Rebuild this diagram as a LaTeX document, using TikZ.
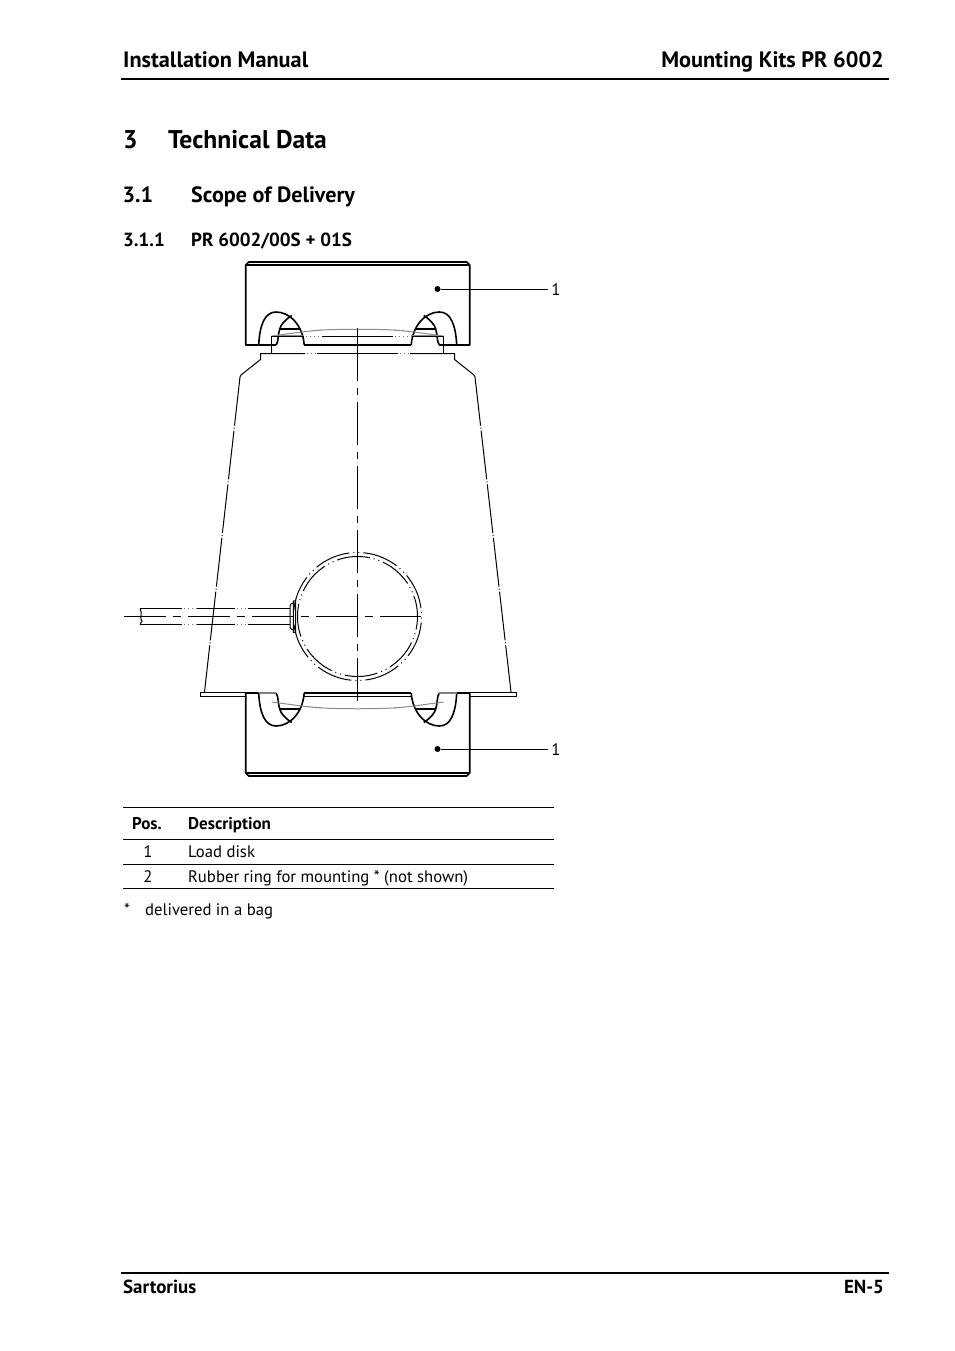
\documentclass[tikz,border=0pt]{standalone}
\usepackage{fontspec}
\setmainfont{PT Sans}
\tikzset{
  txt/.style={anchor=base west,inner sep=0pt},
  txtr/.style={anchor=base east,inner sep=0pt},
  txtc/.style={anchor=base,inner sep=0pt},
  pagefont/.style={font=\bfseries\fontsize{22.3}{25}\selectfont},
  secfont/.style={font=\bfseries\fontsize{25.6}{30}\selectfont},
  subfont/.style={font=\bfseries\fontsize{22.1}{25}\selectfont},
  subsubfont/.style={font=\bfseries\fontsize{19}{20}\selectfont},
  footfont/.style={font=\bfseries\fontsize{18.9}{20}\selectfont},
  tabhead/.style={font=\bfseries\fontsize{17}{18}\selectfont},
  tabfont/.style={font=\fontsize{16.7}{19}\selectfont},
  pagerule/.style={line width=2pt},
  tabrule/.style={line width=1pt},
  heavy/.style={line width=1.6pt,line join=round},
  light/.style={line width=1pt},
  faint/.style={line width=1pt,black!45},
  brk/.style={line width=1pt,black!55,dash pattern=on 1pt off 3pt,dash phase=2pt},
  phantomA/.style={line width=1pt,dash pattern=on 36.2pt off 4pt on 1pt off 4pt on 1pt off 4pt},
  phantomB/.style={line width=1pt,dash pattern=on 33pt off 4pt on 1pt off 4pt on 1pt off 4pt},
  sideline/.style={line width=1pt,dash pattern=on 49pt off 2pt on 1pt off 2pt},
  axisline/.style={line width=1pt,dash pattern=on 42pt off 7pt on 8pt off 7pt},
  refdot/.style={circle,fill=black,inner sep=0pt,minimum size=6pt}
}
\begin{document}
\begin{tikzpicture}[x=1pt,y=-1pt]
  \useasboundingbox (0,0) rectangle (954,1351);
  \fill[white] (0,0) rectangle (954,1351);

  % page head and foot
  \node[txt,pagefont] (manual) at (123,68) {Installation Manual};
  \node[txtr,pagefont] (kits) at (884,68) {Mounting Kits PR 6002};
  \draw[pagerule] (121,79) -- (889,79);
  \node[txt,secfont] (secnum) at (123,149) {3};
  \node[txt,secfont] (sectitle) at (168,149) {Technical Data};
  \node[txt,subfont] (subnum) at (122.5,202) {3.1};
  \node[txt,subfont] (subtitle) at (191,202) {Scope of Delivery};
  \node[txt,subsubfont] (subsubnum) at (123,246) {3.1.1};
  \node[txt,subsubfont] (subsubtitle) at (191,246) {PR 6002/00S + 01S};
  \draw[pagerule] (121,1273) -- (889,1273);
  \node[txt,footfont] (maker) at (123,1293.5) {Sartorius};
  \node[txtr,footfont] (pageno) at (884,1293.5) {EN-5};

  % load disks with their grooves
  \foreach \sy in {1,-1} {
    \begin{scope}[shift={(357.7,519)},yscale=\sy]
      \draw[heavy] (-99,-174) -- (-112,-174) -- (-112,-254) -- (-109,-257) -- (109,-257)
        -- (112,-254) -- (112,-174) -- (99,-174);
      \draw[heavy] (-112,-254) -- (112,-254);
      \draw[heavy] (-53.5,-174) -- (53.5,-174);
      \foreach \sx in {1,-1} {
        \begin{scope}[xscale=\sx]
          \draw[heavy] (-99,-174) .. controls (-98,-194) and (-93,-207) .. (-81.7,-207)
            .. controls (-68,-207) and (-55,-194) .. (-53.5,-174);
          \draw[heavy] (-81.7,-174) .. controls (-79,-177) and (-80,-184) .. (-78,-190)
            .. controls (-77,-194) and (-73,-199) .. (-66,-203.5);
          \draw[heavy] (-78,-190) -- (-57.5,-190);
          \draw[faint] (-86,-183) -- (-56,-187);
          \draw[faint] (-56,-187) .. controls (-48,-188) and (-41,-188.5) .. (-35,-189);
          \draw[brk] (-48,-188.5) -- (-35,-189);
        \end{scope}
      }
      \draw[faint] (-35,-189) .. controls (-15,-190) and (15,-190) .. (35,-189);
    \end{scope}
  }
  \draw[heavy] (258.7,345) -- (276,345);
  \draw[heavy] (456.7,345) -- (439.4,345);
  \draw[line width=1.6pt,black!50] (258.7,693) -- (276,693);
  \draw[line width=1.6pt,black!50] (456.7,693) -- (439.4,693);

  % load cell body
  \draw[light] (271.5,353.5) -- (271.5,336) -- (304,336);
  \draw[light] (443.5,353.5) -- (443.5,336) -- (411.4,336);
  \draw[faint] (277,335.3) -- (304,335.3);
  \draw[faint] (438.4,335.3) -- (411.4,335.3);
  \draw[brk] (304,336) -- (322,336);
  \draw[brk] (393,336) -- (411.4,336);
  \draw[light] (322,336) -- (393,336);
  \draw[light] (240,377) -- (241,375) -- (260.5,359.5) -- (260.5,353.5) -- (305,353.5);
  \draw[brk] (305,353.5) -- (317,353.5);
  \draw[light] (317,353.5) -- (398,353.5);
  \draw[brk] (398,353.5) -- (410,353.5);
  \draw[light] (410,353.5) -- (454.5,353.5) -- (454.5,359.5) -- (474,375) -- (475,377);
  \draw[sideline] (240,377) -- (204.5,692);
  \draw[sideline] (475,377) -- (511,692);
  \draw[light] (246,696) -- (200.5,696) -- (200.5,692.5) -- (246,692.5);
  \draw[light] (470,696) -- (516,696) -- (516,692.5) -- (470,692.5);
  \draw[light] (304.2,696) -- (411.2,696);

  % sensor opening
  \draw[phantomA,dash phase=44pt] (357.5,616.5) circle (64);
  \draw[phantomB,dash phase=20pt] (357.5,616.5) circle (60);

  % cable and gland
  \draw[light] (140,608.5) -- (182,608.5);
  \draw[brk] (182,608.5) -- (197,608.5);
  \draw[light] (197,608.5) -- (235,608.5);
  \draw[brk] (235,608.5) -- (248,608.5);
  \draw[light] (248,608.5) -- (290,608.5);
  \draw[light] (140,624.5) -- (182,624.5);
  \draw[brk] (182,624.5) -- (197,624.5);
  \draw[light] (197,624.5) -- (235,624.5);
  \draw[brk] (235,624.5) -- (248,624.5);
  \draw[light] (248,624.5) -- (290,624.5);
  \draw[light] (140,608.5) .. controls (143,613) and (139,619) .. (142,621) -- (140,624.5);
  \draw[light] (293.4,603) -- (291,604) -- (290,606) -- (290,627) -- (291,629) -- (293.4,630);
  \draw[light] (293.4,601) -- (295.7,600.7) -- (295.7,632.7) -- (293.4,632.4) -- cycle;

  % centre lines
  \draw[light] (357.5,328) -- (357.5,338);
  \draw[axisline,dash pattern=on 43pt off 7pt on 7pt off 7pt] (357.5,338) -- (357.5,708);
  \draw[axisline] (124,616.5) -- (421,616.5);

  % position labels
  \node[refdot] (dotA) at (437.5,289) {};
  \node[txtc,tabfont] (labA) at (556,295) {1};
  \coordinate (endA) at (548,289);
  \draw[light] (dotA) -- (endA);
  \node[refdot] (dotB) at (437.5,749) {};
  \node[txtc,tabfont] (labB) at (556,755) {1};
  \coordinate (endB) at (548,749);
  \draw[light] (dotB) -- (endB);

  % parts table
  \draw[tabrule] (123,807.5) -- (554,807.5);
  \node[txt,tabhead] (headpos) at (132,829) {Pos.};
  \node[txt,tabhead] (headdesc) at (188,829) {Description};
  \draw[tabrule] (123,839.5) -- (554,839.5);
  \node[txtc,tabfont] (posA) at (148,857) {1};
  \node[txt,tabfont] (descA) at (188,857) {Load disk};
  \draw[tabrule] (123,864.5) -- (554,864.5);
  \node[txtc,tabfont] (posB) at (148,882) {2};
  \node[txt,tabfont] (descB) at (188,882) {Rubber ring for mounting * (not shown)};
  \draw[tabrule] (123,888.5) -- (554,888.5);
  \node[txt,tabfont] (star) at (124,915) {*};
  \node[txt,tabfont] (starnote) at (145,915) {delivered in a bag};
\end{tikzpicture}
\end{document}
